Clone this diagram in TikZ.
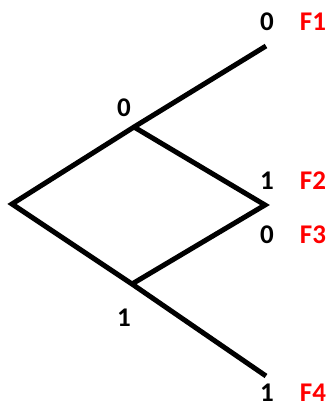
\documentclass[tikz,border=0pt]{standalone}
\usepackage{fontspec}
\setmainfont{Carlito}
\begin{document}
\begin{tikzpicture}[x=1pt,y=-1pt,
  branch/.style={line width=5pt,line join=miter,line cap=butt},
  bit/.style={font=\fontsize{27}{30}\selectfont\bfseries,text=black,inner sep=0pt},
  leaf/.style={font=\fontsize{27}{30}\selectfont\bfseries,text=red,inner sep=0pt}]
\useasboundingbox (0,0) rectangle (329,408);
\coordinate (root) at (12,204);
\coordinate (a) at (134,127);
\coordinate (b) at (132,284);
\coordinate (m) at (265,205);
\coordinate (e1) at (266,46);
\coordinate (e4) at (266,376);
\draw[branch] (e1) -- (a) -- (root) -- (b) -- (e4);
\draw[branch] (a) -- (m) -- (b);
\node[bit] (la) at (124,108) {0};
\node[bit] (lb) at (124,318) {1};
\node[bit] (l1) at (267,22) {0};
\node[leaf] (f1) at (313,22) {F1};
\node[bit] (l2) at (267,181) {1};
\node[leaf] (f2) at (313,181) {F2};
\node[bit] (l3) at (267,235) {0};
\node[leaf] (f3) at (313,235) {F3};
\node[bit] (l4) at (267,393) {1};
\node[leaf] (f4) at (313,393) {F4};
\end{tikzpicture}
\end{document}
